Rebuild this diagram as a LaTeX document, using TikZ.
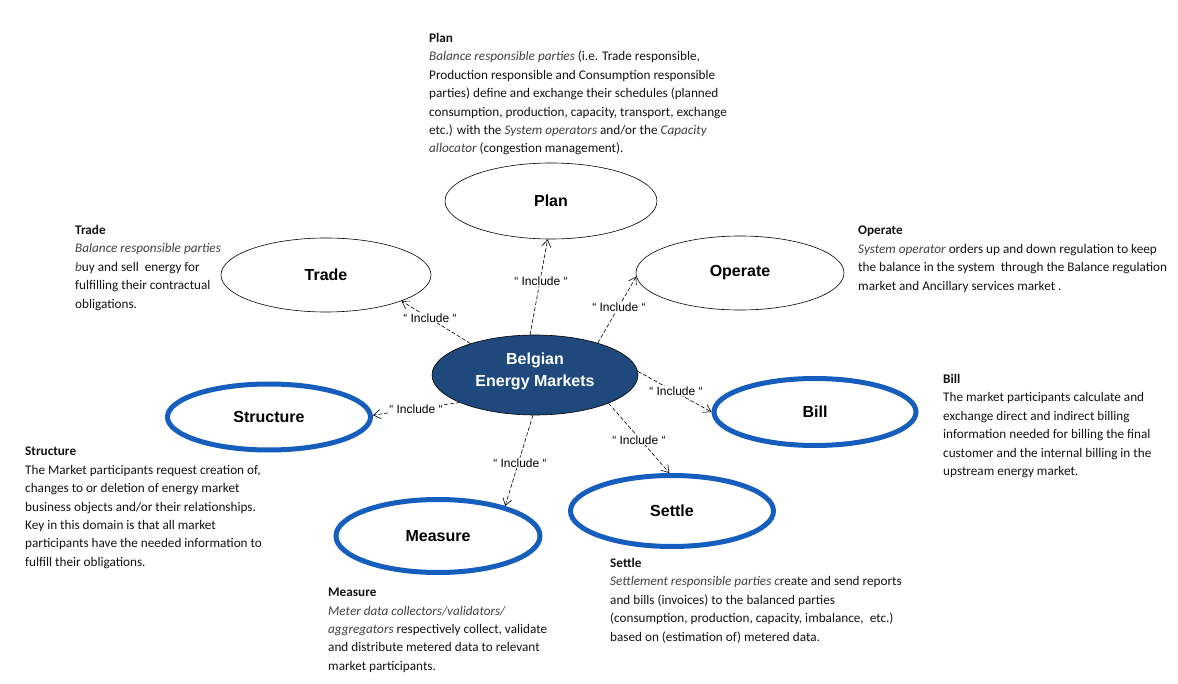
\documentclass[tikz,border=0pt]{standalone}
\usepackage{fontspec}
\setmainfont{Carlito}
\newfontfamily\arialf{Liberation Sans}
\usetikzlibrary{shapes.geometric,arrows.meta}
\definecolor{navy}{RGB}{31,73,125}
\definecolor{bluering}{RGB}{22,94,190}
\definecolor{txt}{RGB}{20,20,20}
\definecolor{itx}{RGB}{65,65,65}
\tikzset{
  thinell/.style={ellipse,draw=black,line width=0.6pt,inner sep=0pt,font=\arialf\fontsize{16}{20}\selectfont\bfseries},
  thickell/.style={ellipse,draw=bluering,line width=5pt,inner sep=0pt,font=\arialf\fontsize{16}{20}\selectfont\bfseries},
  incl/.style={draw=black,dashed,dash pattern=on 4pt off 2pt,line width=0.6pt,-{Straight Barb[length=7pt,width=9pt]}},
  lbl/.style={fill=white,inner sep=1pt,font=\arialf\fontsize{12}{14}\selectfont},
  desc/.style={anchor=north west,align=left,inner sep=0pt,text=txt,font=\fontsize{13.2}{18.4}\selectfont},
}
\newcommand{\ii}[1]{\textcolor{itx}{\textit{#1}}}
\begin{document}
\begin{tikzpicture}[x=1pt,y=-1pt]
\useasboundingbox[fill=white] (0,0) rectangle (1178,684);
% ellipses
\node[thinell,minimum width=212pt,minimum height=76pt] (plan) at (551,201) {Plan};
\node[thinell,minimum width=210pt,minimum height=74pt] (trade) at (326,275) {Trade};
\node[thinell,minimum width=208pt,minimum height=74pt] (operate) at (740,273) {Operate};
\node[ellipse,draw=black,line width=0.6pt,fill=navy,inner sep=0pt,minimum width=206pt,minimum height=80pt] (bem) at (535,375) {};
\node[text=white,align=center,inner sep=0pt,font=\arialf\fontsize{16}{22}\selectfont\bfseries] (bemtext) at (535,371) {Belgian\\Energy Markets};
\node[thickell,minimum width=203pt,minimum height=66pt] (structure) at (269,417) {Structure};
\node[thickell,minimum width=202pt,minimum height=67pt] (bill) at (815,412) {Bill};
\node[thickell,minimum width=203pt,minimum height=71pt] (settle) at (672,511) {Settle};
\node[thickell,minimum width=204pt,minimum height=73pt] (measure) at (438,536) {Measure};
% connectors
\draw[incl] (bem.97) -- (plan.265);
\draw[incl] (bem.154) -- (trade.341);
\draw[incl] (bem.27) -- (operate.182);
\draw[incl] (bem.200.5) -- (structure.1.7);
\draw[incl] (bem.2) -- (bill.180);
\draw[incl] (bem.339.5) -- (settle.94);
\draw[incl] (bem.267) -- (measure.24);
% labels
\node[lbl] (l1) at (541,281) {“ Include “};
\node[lbl] (l2) at (430,318) {“ Include “};
\node[lbl] (l3) at (619,307) {“ Include “};
\node[lbl] (l4) at (416,409) {“ Include “};
\node[lbl] (l5) at (676,391) {“ Include “};
\node[lbl] (l6) at (639,440) {“ Include “};
\node[lbl] (l7) at (520,463) {“ Include “};
% descriptions
\node[desc] (dplan) at (429,33) {\textbf{Plan}\\
\ii{Balance responsible parties} (i.e. Trade responsible,\\
Production responsible and Consumption responsible\\
parties) define and exchange their schedules (planned\\
consumption, production, capacity, transport, exchange\\
etc.) with the \ii{System operators} and/or the \ii{Capacity}\\
\ii{allocator} (congestion management).};
\node[desc] (dtrade) at (75,225) {\textbf{Trade}\\
\ii{Balance responsible parties}\\
\ii{b}uy and sell\ \ energy for\\
fulfilling their contractual\\
obligations.};
\node[desc] (doperate) at (858,226) {\textbf{Operate}\\
\ii{System operator} orders up and down regulation to keep\\
the balance in the system\ \ through the Balance regulation\\
market and Ancillary services market .};
\node[desc] (dbill) at (943,374) {\textbf{Bill}\\
The market participants calculate and\\
exchange direct and indirect billing\\
information needed for billing the final\\
customer and the internal billing in the\\
upstream energy market.};
\node[desc] (dstructure) at (25,447) {\textbf{Structure}\\
The Market participants request creation of,\\
changes to or deletion of energy market\\
business objects and/or their relationships.\\
Key in this domain is that all market\\
participants have the needed information to\\
fulfill their obligations.};
\node[desc] (dmeasure) at (328,588) {\textbf{Measure}\\
\ii{Meter data collectors/validators/}\\
\ii{aggregators} respectively collect, validate\\
and distribute metered data to relevant\\
market participants.};
\node[desc] (dsettle) at (610,558) {\textbf{Settle}\\
\ii{Settlement responsible parties c}reate and send reports\\
and bills (invoices) to the balanced parties\\
(consumption, production, capacity, imbalance,\ \ etc.)\\
based on (estimation of) metered data.};
\end{tikzpicture}
\end{document}
